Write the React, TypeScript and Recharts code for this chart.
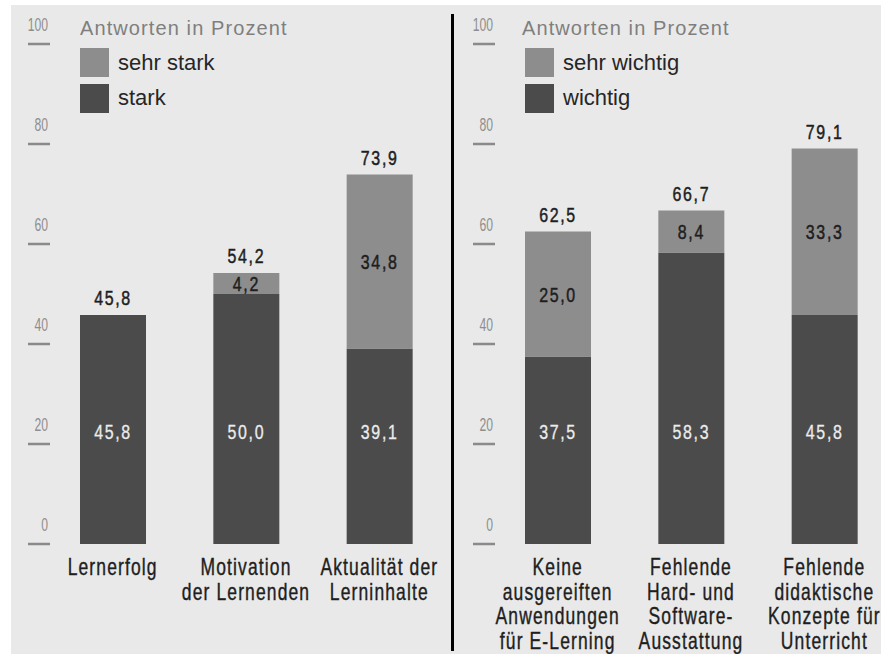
import React from 'react';
import { BarChart, Bar, XAxis, YAxis, LabelList, Legend } from 'recharts';

// ---- data ----
const leftCategories = ['Lernerfolg', 'Motivation\nder Lernenden', 'Aktualität der\nLerninhalte'];
const leftStark = [45.8, 50.0, 39.1];
const leftSehrStark = [0, 4.2, 34.8];
const leftTotals = [45.8, 54.2, 73.9];

const rightCategories = [
  'Keine\nausgereiften\nAnwendungen\nfür E-Lerning',
  'Fehlende\nHard- und\nSoftware-\nAusstattung',
  'Fehlende\ndidaktische\nKonzepte für\nUnterricht',
];
const rightWichtig = [37.5, 58.3, 45.8];
const rightSehrWichtig = [25.0, 8.4, 33.3];
const rightTotals = [62.5, 66.7, 79.1];

const yTicks = [0, 20, 40, 60, 80, 100];
const legendTitle = 'Antworten in Prozent';

// ---- styles ----
const COND = "'Liberation Sans', Arial, sans-serif";
const REG = "'Liberation Sans', Arial, sans-serif";
const DARK = '#4b4b4b';
const LIGHT = '#8d8d8d';
const BG = '#e9e9e9';

const fmt = (v: number) => v.toFixed(1).replace('.', ',');

function CText({ x, y, text, size, fill, anchor = 'middle', sx = 1, ls = 0, sw = 0 }: any) {
  return (
    <text
      transform={`translate(${x},${y}) scale(${sx},1)`}
      textAnchor={anchor}
      fontSize={size}
      fill={fill}
      stroke={sw ? fill : 'none'}
      strokeWidth={sw}
      fontFamily={COND}
      letterSpacing={ls}
    >
      {text}
    </text>
  );
}

const YTick = (props: any) => {
  const { y, payload } = props;
  return (
    <g>
      <line x1={28} x2={50} y1={y} y2={y} stroke="#8a8a8a" strokeWidth={2.5} />
      <CText x={48} y={y - 13} text={String(payload.value)} size={19} fill="#8e8e8e" anchor="end" sx={0.64} />
    </g>
  );
};

const XTick = (props: any) => {
  const { x, y, payload } = props;
  const lines = String(payload.value).split('\n');
  return (
    <g>
      {lines.map((l, i) => (
        <CText key={i} x={x} y={y + 31 + i * 24.5} text={l} size={23} fill="#1e1e1e" sx={0.76} ls={1.5} sw={0.4} />
      ))}
    </g>
  );
};

const getBox = (p: any) => {
  const vb = p.viewBox || {};
  return {
    x: p.x ?? vb.x,
    y: p.y ?? vb.y,
    w: p.width ?? vb.width,
    h: p.height ?? vb.height,
  };
};

const VAL_SX = 0.76;
const VAL_LS = 2.2;

const DarkLabel = (p: any) => {
  const { x, y, w, h } = getBox(p);
  if (!p.value) return null;
  return <CText x={x + w / 2} y={y + h - 105} text={fmt(Number(p.value))} size={21} fill="#ececec" sx={VAL_SX} ls={VAL_LS} sw={0.3} />;
};

const LightLabel = (p: any) => {
  const { x, y, w, h } = getBox(p);
  if (!p.value) return null;
  return <CText x={x + w / 2} y={y + h / 2 + 7.5} text={fmt(Number(p.value))} size={21} fill="#1e1e1e" sx={VAL_SX} ls={VAL_LS} sw={0.5} />;
};

const makeTotalLabel = (data: any[]) => (p: any) => {
  const { x, y, w, h } = getBox(p);
  const row = data[p.index ?? 0];
  const pxPerUnit = h / row.lower;
  const top = y + h - row.total * pxPerUnit;
  return <CText key={`t${p.index}`} x={x + w / 2} y={top - 10} text={fmt(Number(row.total))} size={21} fill="#1e1e1e" sx={VAL_SX} ls={VAL_LS} sw={0.5} />;
};

const makeLegend = (titleDx: number) => (props: any) => {
  const items = [...(props.payload || [])];
  items.sort((a: any, b: any) => (a.dataKey === 'upper' ? -1 : 1) - (b.dataKey === 'upper' ? -1 : 1));
  return (
    <div style={{ position: 'relative', width: 320, height: 110 }}>
      <div
        style={{
          position: 'absolute',
          left: titleDx,
          top: 4,
          fontFamily: REG,
          fontSize: 20,
          color: '#7f7f7f',
          letterSpacing: 1.1,
          whiteSpace: 'nowrap',
          lineHeight: '24px',
        }}
      >
        {legendTitle}
      </div>
      {items.map((it: any, i: number) => (
        <div key={i} style={{ position: 'absolute', left: 0, top: 36 + i * 35.5, height: 29, display: 'flex', alignItems: 'center' }}>
          <div style={{ width: 29, height: 29, background: it.color }} />
          <span
            style={{
              marginLeft: 9,
              fontFamily: REG,
              fontSize: 22,
              color: '#262626',
              whiteSpace: 'nowrap',
            }}
          >
            {it.value}
          </span>
        </div>
      ))}
    </div>
  );
};

function Panel({ categories, lower, upper, totals, lowerName, upperName, titleDx }: any) {
  const data = categories.map((c: string, i: number) => ({
    name: c,
    lower: lower[i],
    upper: upper[i],
    total: totals[i],
  }));
  return (
    <BarChart width={452} height={654} data={data} margin={{ top: 44, right: 6, bottom: 0, left: 0 }}>
      <Legend
        layout="vertical"
        align="center"
        verticalAlign="middle"
        wrapperStyle={{ top: 12, left: 80, width: 320, height: 110 }}
        content={makeLegend(titleDx)}
      />
      <XAxis
        dataKey="name"
        height={110}
        axisLine={false}
        tickLine={false}
        tickSize={0}
        tickMargin={0}
        interval={0}
        tick={<XTick />}
      />
      <YAxis
        width={46}
        domain={[0, 100]}
        ticks={yTicks}
        axisLine={false}
        tickLine={false}
        tick={<YTick />}
        allowDataOverflow
      />
      <Bar dataKey="lower" name={lowerName} stackId="a" fill={DARK} barSize={66} isAnimationActive={false}>
        <LabelList dataKey="lower" content={<DarkLabel />} />
        <LabelList dataKey="total" content={makeTotalLabel(data)} />
      </Bar>
      <Bar dataKey="upper" name={upperName} stackId="a" fill={LIGHT} barSize={66} isAnimationActive={false}>
        <LabelList dataKey="upper" content={<LightLabel />} />
      </Bar>
    </BarChart>
  );
}

export default function App() {
  return (
    <div style={{ position: 'absolute', left: 0, top: 0, width: 881, height: 654, background: '#ffffff', overflow: 'hidden' }}>
      <div style={{ position: 'absolute', left: 11, top: 5, width: 870, height: 649, background: BG }} />
      <div style={{ position: 'absolute', left: 0, top: 0 }}>
        <Panel
          categories={leftCategories}
          lower={leftStark}
          upper={leftSehrStark}
          totals={leftTotals}
          lowerName="stark"
          upperName="sehr stark"
          titleDx={0}
        />
      </div>
      <div style={{ position: 'absolute', left: 445, top: 0 }}>
        <Panel
          categories={rightCategories}
          lower={rightWichtig}
          upper={rightSehrWichtig}
          totals={rightTotals}
          lowerName="wichtig"
          upperName="sehr wichtig"
          titleDx={-3}
        />
      </div>
      <div style={{ position: 'absolute', left: 451, top: 14, width: 3, height: 637, background: '#000' }} />
    </div>
  );
}
